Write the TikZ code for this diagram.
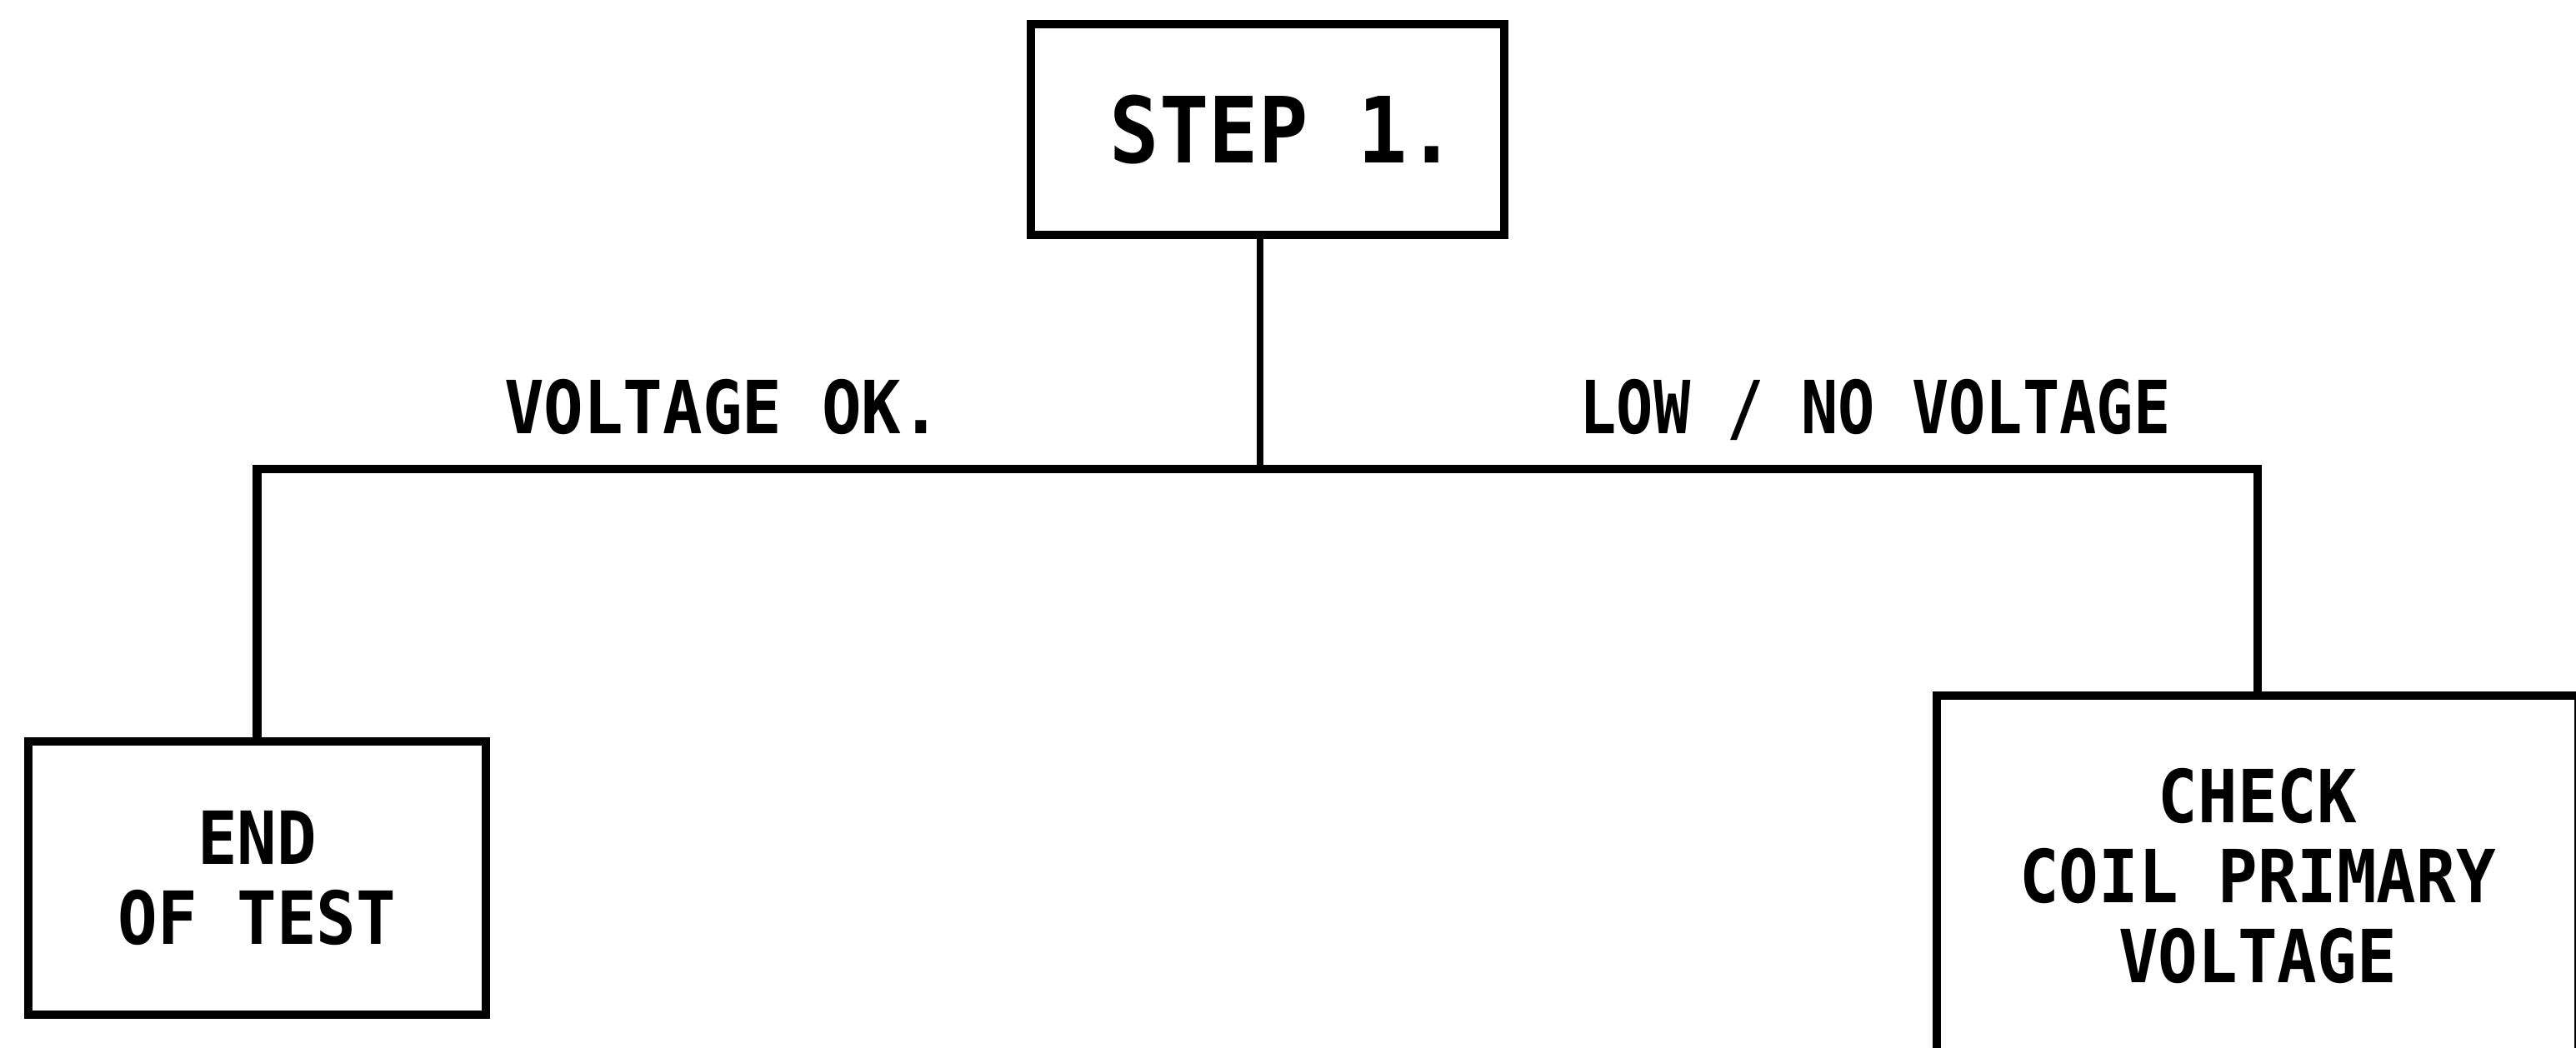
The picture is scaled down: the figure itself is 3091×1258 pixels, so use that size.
\documentclass[tikz,border=0pt]{standalone}
\usepackage{fontspec}
\usepackage{graphicx}
\newfontfamily\lettering[FakeStretch=0.9]{DejaVu Sans Mono}
\begin{document}
\begin{tikzpicture}[x=0.01cm,y=-0.01cm,
  boxstyle/.style={draw=black, line width=2.9pt, rectangle, inner sep=0pt,
    font=\lettering\bfseries\fontsize{25}{27.3}\selectfont, align=center},
  conn/.style={line width=2.2pt, line cap=rect},
  hconn/.style={line width=3pt, line cap=rect, line join=miter},
  lbl/.style={font=\lettering\bfseries\fontsize{25}{27.3}\selectfont, inner sep=0pt, anchor=base}]
\useasboundingbox (0,0) rectangle (3091,1258);
\clip (0,0) rectangle (3091,1258);
\fill[white] (0,0) rectangle (3091,1258);
\node[boxstyle, minimum width=5.68cm, minimum height=2.53cm,
  font=\lettering\bfseries\fontsize{31.2}{33}\selectfont] (step) at (1521,155.5) {\hspace*{0.38cm}STEP 1.};
\node[boxstyle, minimum width=5.49cm, minimum height=3.28cm] (endbox) at (308.5,1054) {END\\OF TEST};
\node[boxstyle, minimum width=7.7cm, minimum height=4.32cm] (check) at (2709,1051) {CHECK\\COIL PRIMARY\\VOLTAGE};
\coordinate (J) at (1512,563);
\draw[conn] (step.south -| J) -- (J);
\draw[hconn] (endbox.north) -- (endbox.north |- J) -- (check.north |- J) -- (check.north);
\node[lbl] (ok) at (867,520) {VOLTAGE OK.};
\node[lbl] (low) at (2250,520) {\scalebox{0.93}[1]{LOW / NO VOLTAGE}};
\end{tikzpicture}
\end{document}
